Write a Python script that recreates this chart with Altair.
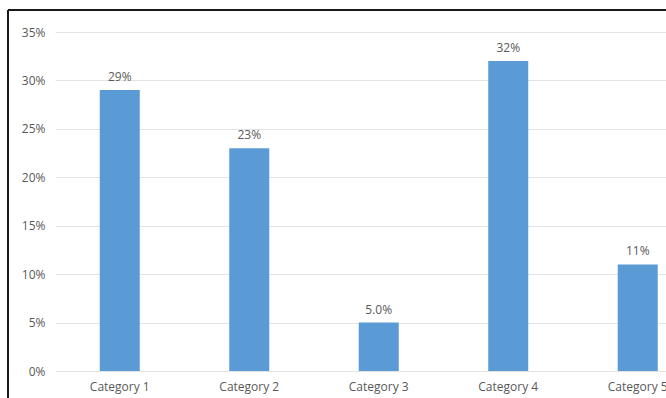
import altair as alt
import pandas as pd

categories = ["Category 1", "Category 2", "Category 3", "Category 4", "Category 5"]
values = [0.29, 0.23, 0.05, 0.32, 0.11]
labels = ["29%", "23%", "5.0%", "32%", "11%"]
y_ticks = [0, 0.05, 0.10, 0.15, 0.20, 0.25, 0.30, 0.35]

df = pd.DataFrame({"cat": categories, "val": values, "lab": labels})

FONT = "Open Sans"
GREY = "#595959"

x_enc = alt.X("cat:N", sort=categories,
              scale=alt.Scale(range=[0, 647.5], paddingInner=0.691, paddingOuter=0.3456),
              axis=alt.Axis(title=None, labelAngle=0, labelColor=GREY, labelFont=FONT,
                            labelFontSize=12, labelPadding=10, ticks=False, domain=False,
                            grid=False))
y_enc = alt.Y("val:Q", scale=alt.Scale(domain=[0, 0.35], nice=False),
              axis=alt.Axis(title=None, values=y_ticks, format=".0%", labelColor=GREY,
                            labelFont=FONT, labelFontSize=12, labelPadding=10, ticks=False,
                            domain=False, gridColor="#E3E3E3", gridWidth=1))

base = alt.Chart(df)
bars = base.mark_bar(color="#5B9BD5").encode(x=x_enc, y=y_enc)
text = base.mark_text(dy=-13, font=FONT, fontSize=12, color=GREY).encode(
    x=alt.X("cat:N", sort=categories), y="val:Q", text="lab:N")

frame_top = base.mark_rule(color="#1a1a1a", strokeWidth=1.5).encode(
    x=alt.value(-47), x2=alt.value(700), y=alt.value(-22))
frame_left = base.mark_rule(color="#1a1a1a", strokeWidth=1.5).encode(
    x=alt.value(-47), y=alt.value(-22), y2=alt.value(400))

chart = alt.layer(bars, text, frame_top, frame_left).properties(
    width=611, height=339,
    autosize=alt.AutoSizeParams(type="none"),
    padding={"left": 55, "top": 32, "right": 0, "bottom": 27},
    background="white",
).configure_view(stroke=None)

chart.save("out.html", embed_options={"renderer": "svg", "actions": False})
